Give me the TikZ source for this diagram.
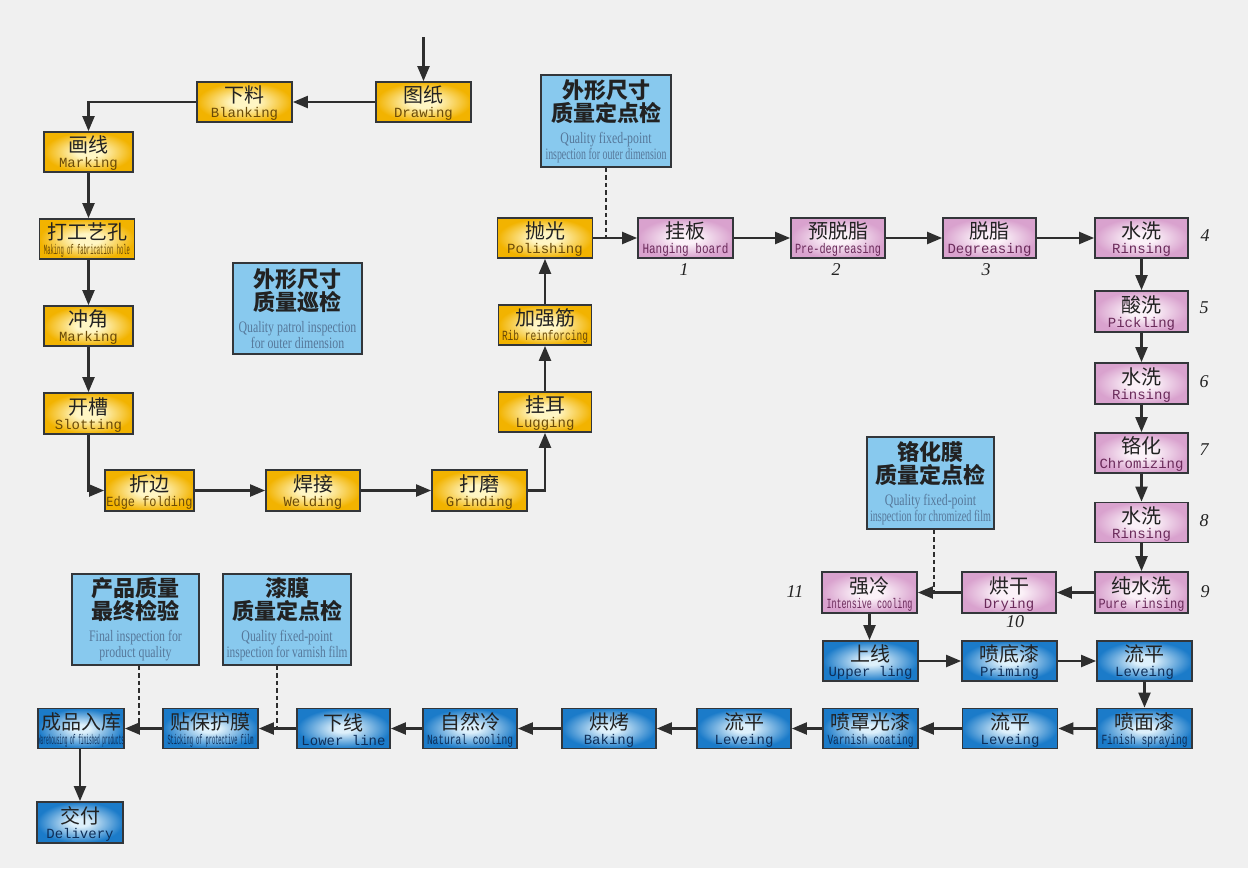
\documentclass[tikz,border=0pt]{standalone}
\usepackage{fontspec}
\usepackage{graphicx}
\usetikzlibrary{arrows.meta}
\setmainfont{Liberation Serif}
\newfontfamily\zh{Noto Sans CJK SC}
\newfontfamily\en{Liberation Mono}
\newfontfamily\ens{Liberation Serif}
\definecolor{bgc}{HTML}{F0F0F0}
\definecolor{bordc}{HTML}{33363A}
\definecolor{linec}{HTML}{2E2E2E}
\definecolor{yin}{HTML}{FFF6C4}
\definecolor{yout}{HTML}{F2B300}
\definecolor{pin}{HTML}{FBF1F8}
\definecolor{pout}{HTML}{D9A2CE}
\definecolor{bin}{HTML}{DDF0FB}
\definecolor{bout}{HTML}{1B7BC9}
\definecolor{inspc}{HTML}{88C9EE}
\definecolor{ency}{HTML}{6A4A08}
\definecolor{encp}{HTML}{6A2A5A}
\definecolor{encb}{HTML}{0E2E58}
\definecolor{enci}{HTML}{56789A}
\definecolor{zhc}{HTML}{222222}
\pgfdeclareradialshading{shY}{\pgfpointorigin}{color(0bp)=(yin); color(7bp)=(yin); color(25bp)=(yout); color(50bp)=(yout)}
\pgfdeclareradialshading{shP}{\pgfpointorigin}{color(0bp)=(pin); color(7bp)=(pin); color(25bp)=(pout); color(50bp)=(pout)}
\pgfdeclareradialshading{shB}{\pgfpointorigin}{color(0bp)=(bin); color(5bp)=(bin); color(25bp)=(bout); color(50bp)=(bout)}
\newsavebox\fitbox
\newcommand\fitto[2]{\sbox\fitbox{#2}\ifdim\wd\fitbox>#1\relax\resizebox{#1}{\ht\fitbox}{\usebox\fitbox}\else\usebox\fitbox\fi}
\newcommand\pl[3]{\rule{0pt}{19.5pt}{\zh #1}\\[1pt]{\color{#3}\en\fontsize{14}{14}\selectfont\fitto{86pt}{#2}}}
\newcommand\il[4]{{\zh\bfseries #1}\\{\zh\bfseries #2}\\[-1pt]{\color{enci}\ens\fontsize{16}{16}\selectfont\fitto{120pt}{\scalebox{0.74}[1]{#3}}}\\[-7pt]{\color{enci}\ens\fontsize{16}{16}\selectfont\fitto{121pt}{\scalebox{0.74}[1]{#4}}}}
\tikzset{
  proc/.style={draw=bordc, line width=1.8pt, minimum width=95pt, minimum height=40pt, inner sep=0pt, align=center, text=zhc, font=\fontsize{20}{14}\selectfont},
  yel/.style={proc, shading=shY},
  pnk/.style={proc, shading=shP},
  blu/.style={proc, shading=shB},
  insp/.style={draw=bordc, line width=1.8pt, fill=inspc, minimum width=128pt, minimum height=91pt, inner sep=0pt, align=center, text=zhc, font=\fontsize{22}{23}\selectfont},
  arr/.style={draw=linec, line width=2.2pt, -{Triangle[length=15pt,width=12pt]}},
  dsh/.style={draw=linec, line width=2pt, dash pattern=on 4.5pt off 3pt},
  num/.style={font=\itshape\fontsize{18}{18}\selectfont, text=zhc, inner sep=0pt}
}
\begin{document}
\begin{tikzpicture}[x=1pt,y=-1pt]
\fill[bgc] (0,0) rectangle (1248,868);
\useasboundingbox (0,0) rectangle (1248,868);
% yellow
\node[yel] (draw) at (423.5,102) {\pl{图纸}{Drawing}{ency}};
\node[yel] (blank) at (244.5,102) {\pl{下料}{Blanking}{ency}};
\node[yel, minimum width=89pt] (mark) at (88.5,152) {\pl{画线}{Marking}{ency}};
\node[yel] (hole) at (87,239) {\pl{打工艺孔}{Making of fabrication hole}{ency}};
\node[yel, minimum width=89pt] (chong) at (88.5,326) {\pl{冲角}{Marking}{ency}};
\node[yel, minimum width=89pt, minimum height=41pt] (slot) at (88.5,413.5) {\pl{开槽}{Slotting}{ency}};
\node[yel, minimum width=89pt, minimum height=41pt] (edge) at (149.5,490.5) {\pl{折边}{Edge folding}{ency}};
\node[yel, minimum width=94pt, minimum height=41pt] (weld) at (313,490.5) {\pl{焊接}{Welding}{ency}};
\node[yel, minimum height=41pt] (grind) at (479.5,490.5) {\pl{打磨}{Grinding}{ency}};
\node[yel, minimum width=93pt] (lug) at (545,412) {\pl{挂耳}{Lugging}{ency}};
\node[yel, minimum width=93pt] (rib) at (545,325) {\pl{加强筋}{Rib reinforcing}{ency}};
\node[yel] (polish) at (545,238) {\pl{抛光}{Polishing}{ency}};
% pink
\node[pnk] (hang) at (685.5,238) {\pl{挂板}{Hanging board}{encp}};
\node[pnk, minimum width=94pt] (prede) at (838,238) {\pl{预脱脂}{Pre-degreasing}{encp}};
\node[pnk, minimum width=93pt] (degr) at (989.5,238) {\pl{脱脂}{Degreasing}{encp}};
\node[pnk, minimum width=93pt] (rin1) at (1141.5,238) {\pl{水洗}{Rinsing}{encp}};
\node[pnk, minimum width=93pt, minimum height=41pt] (pick) at (1141.5,311.5) {\pl{酸洗}{Pickling}{encp}};
\node[pnk, minimum width=93pt, minimum height=41pt] (rin2) at (1141.5,383.5) {\pl{水洗}{Rinsing}{encp}};
\node[pnk, minimum width=93pt] (chrom) at (1141.5,453) {\pl{铬化}{Chromizing}{encp}};
\node[pnk, minimum width=93pt] (rin3) at (1141.5,522.5) {\pl{水洗}{Rinsing}{encp}};
\node[pnk, minimum width=93pt, minimum height=41pt] (pure) at (1141.5,592.5) {\pl{纯水洗}{Pure rinsing}{encp}};
\node[pnk, minimum width=94pt, minimum height=41pt] (dry) at (1009,592.5) {\pl{烘干}{Drying}{encp}};
\node[pnk, minimum height=41pt] (cool) at (869.5,592.5) {\pl{强冷}{Intensive cooling}{encp}};
% blue process
\node[blu] (upper) at (870.5,661) {\pl{上线}{Upper ling}{encb}};
\node[blu] (prime) at (1009.5,661) {\pl{喷底漆}{Priming}{encb}};
\node[blu] (lev1) at (1144.5,661) {\pl{流平}{Leveing}{encb}};
\node[blu] (finish) at (1144.5,728.5) {\pl{喷面漆}{Finish spraying}{encb}};
\node[blu] (lev2) at (1010,728.5) {\pl{流平}{Leveing}{encb}};
\node[blu] (varn) at (870.5,728.5) {\pl{喷罩光漆}{Varnish coating}{encb}};
\node[blu, minimum width=94pt] (lev3) at (744,728.5) {\pl{流平}{Leveing}{encb}};
\node[blu, minimum width=94pt] (bake) at (609,728.5) {\pl{烘烤}{Baking}{encb}};
\node[blu, minimum width=94pt] (natc) at (470,728.5) {\pl{自然冷}{Natural cooling}{encb}};
\node[blu, minimum width=93pt] (lower) at (343.5,728.5) {\pl{下线}{Lower line}{encb}};
\node[blu] (film) at (210.5,728.5) {\pl{贴保护膜}{Sticking of protective film}{encb}};
\node[blu, minimum width=86pt] (store) at (81,728.5) {\pl{成品入库}{Warehousing of finished products}{encb}};
\node[blu, minimum width=86pt, minimum height=41pt] (deliv) at (80,822.5) {\pl{交付}{Delivery}{encb}};
% inspection boxes
\node[insp, minimum width=130pt, minimum height=92pt] (insp1) at (606,121) {\il{外形尺寸}{质量定点检}{Quality fixed-point}{inspection for outer dimension}};
\node[insp, minimum width=129pt] (insp2) at (297.5,308.5) {\il{外形尺寸}{质量巡检}{Quality patrol inspection}{for outer dimension}};
\node[insp, minimum width=127pt, minimum height=92pt] (insp3) at (930.5,483) {\il{铬化膜}{质量定点检}{Quality fixed-point}{inspection for chromized film}};
\node[insp, minimum width=127pt] (insp4) at (135.5,619.5) {\il{产品质量}{最终检验}{Final inspection for}{product quality}};
\node[insp] (insp5) at (287,619.5) {\il{漆膜}{质量定点检}{Quality fixed-point}{inspection for varnish film}};
% numbers
\node[num] (n1) at (684,270) {1};
\node[num] (n2) at (836,270) {2};
\node[num] (n3) at (986,270) {3};
\node[num] (n4) at (1205,236) {4};
\node[num] (n5) at (1204,308) {5};
\node[num] (n6) at (1204,382) {6};
\node[num] (n7) at (1204,450) {7};
\node[num] (n8) at (1204,521) {8};
\node[num] (n9) at (1205,592) {9};
\node[num] (n10) at (1015,622) {10};
\node[num] (n11) at (795,592) {11};
% connectors
\coordinate (start) at (423.5,37);
\draw[arr] (start) -- (draw.north);
\draw[arr] (draw.west) -- (blank.east);
\draw[arr] (blank.west) -| (mark.north);
\draw[arr] (mark.south) -- (mark.south |- hole.north);
\draw[arr] (mark.south |- hole.south) -- (chong.north);
\draw[arr] (chong.south) -- (slot.north);
\draw[arr] (slot.south) |- (edge.west);
\draw[arr] (edge.east) -- (weld.west);
\draw[arr] (weld.east) -- (grind.west);
\draw[arr] (grind.east) -| (lug.south);
\draw[arr] (lug.north) -- (rib.south);
\draw[arr] (rib.north) -- (polish.south);
\draw[arr] (polish.east) -- (hang.west);
\draw[arr] (hang.east) -- (prede.west);
\draw[arr] (prede.east) -- (degr.west);
\draw[arr] (degr.east) -- (rin1.west);
\draw[arr] (rin1.south) -- (pick.north);
\draw[arr] (pick.south) -- (rin2.north);
\draw[arr] (rin2.south) -- (chrom.north);
\draw[arr] (chrom.south) -- (rin3.north);
\draw[arr] (rin3.south) -- (pure.north);
\draw[arr] (pure.west) -- (dry.east);
\draw[arr] (dry.west) -- (cool.east);
\draw[arr] (cool.south) -- (cool.south |- upper.north);
\draw[arr] (upper.east) -- (prime.west);
\draw[arr] (prime.east) -- (lev1.west);
\draw[arr] (lev1.south) -- (finish.north);
\draw[arr] (finish.west) -- (lev2.east);
\draw[arr] (lev2.west) -- (varn.east);
\draw[arr] (varn.west) -- (lev3.east);
\draw[arr] (lev3.west) -- (bake.east);
\draw[arr] (bake.west) -- (natc.east);
\draw[arr] (natc.west) -- (lower.east);
\draw[arr] (lower.west) -- (film.east);
\draw[arr] (film.west) -- (store.east);
\draw[arr] (store.south -| deliv.north) -- (deliv.north);
% dashed inspection links
\draw[dsh] (insp1.south) -- (insp1.south |- polish.east);
\draw[dsh] ([xshift=3pt]insp3.south) -- ([xshift=3pt]insp3.south |- cool.east);
\draw[dsh] ([xshift=3pt]insp4.south) -- ([xshift=3pt]insp4.south |- store.east);
\draw[dsh] ([xshift=-10pt]insp5.south) -- ([xshift=-10pt]insp5.south |- film.east);
\end{tikzpicture}
\end{document}
